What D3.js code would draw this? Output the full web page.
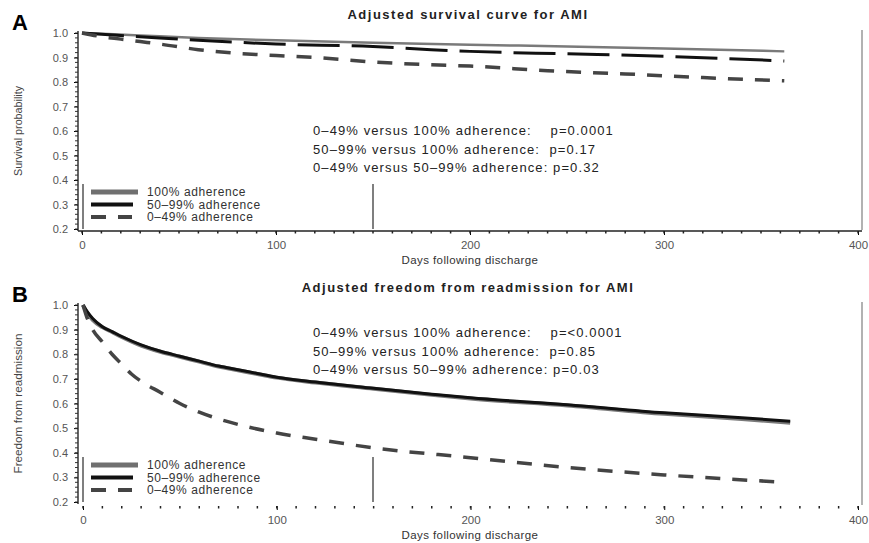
<!DOCTYPE html>
<html>
<head>
<meta charset="utf-8">
<script src="https://cdn.jsdelivr.net/npm/d3@7"></script>
<style>
  body { margin: 0; background: #fff; }
  text { font-family: "Liberation Sans", Arial, sans-serif; }
</style>
</head>
<body>
<svg id="chart" width="869" height="543"></svg>
<script>
// panel A - adjusted survival
var aDays100 = [0, 30, 60, 100, 150, 200, 250, 300, 362];
var aVals100 = [1.0, 0.99, 0.98, 0.97, 0.96, 0.952, 0.945, 0.937, 0.925];
var aDays50 = [0, 20, 40, 60, 80, 100, 150, 180, 200, 250, 300, 362];
var aVals50 = [1.0, 0.99, 0.98, 0.97, 0.962, 0.955, 0.945, 0.932, 0.925, 0.915, 0.905, 0.886];
var aDays0 = [0, 10, 20, 30, 40, 60, 80, 100, 120, 150, 180, 200, 240, 280, 320, 362];
var aVals0 = [1.0, 0.985, 0.975, 0.965, 0.955, 0.932, 0.917, 0.908, 0.9, 0.882, 0.87, 0.865, 0.846, 0.833, 0.818, 0.805];

// panel B - freedom from readmission
var bDays100 = [0, 2, 5, 10, 15, 20, 30, 40, 50, 60, 70, 80, 90, 100, 120, 150, 180, 200, 250, 300, 340, 365];
var bVals100 = [1.0, 0.97, 0.94, 0.91, 0.89, 0.87, 0.835, 0.81, 0.79, 0.77, 0.75, 0.735, 0.72, 0.705, 0.685, 0.66, 0.635, 0.62, 0.592, 0.558, 0.537, 0.522];
var bDays50 = [0, 2, 5, 10, 15, 20, 30, 40, 50, 60, 70, 80, 90, 100, 120, 150, 180, 200, 250, 300, 340, 365];
var bVals50 = [1.0, 0.975, 0.945, 0.912, 0.892, 0.872, 0.838, 0.812, 0.792, 0.772, 0.752, 0.737, 0.722, 0.707, 0.687, 0.662, 0.638, 0.623, 0.595, 0.562, 0.542, 0.528];
var bDays0 = [0, 2, 5, 10, 15, 20, 25, 30, 40, 50, 60, 80, 100, 120, 150, 200, 250, 300, 362];
var bVals0 = [1.0, 0.95, 0.9, 0.85, 0.8, 0.76, 0.72, 0.69, 0.645, 0.6, 0.565, 0.515, 0.48, 0.455, 0.42, 0.38, 0.34, 0.31, 0.28];

var yTicks = [0.2, 0.3, 0.4, 0.5, 0.6, 0.7, 0.8, 0.9, 1.0];
var xTicks = [0, 100, 200, 300, 400];
var legendLabels = ["100% adherence", "50\u201399% adherence", "0\u201349% adherence"];
var pTextA = ["0\u201349% versus 100% adherence:    p=0.0001",
              "50\u201399% versus 100% adherence:  p=0.17",
              "0\u201349% versus 50\u201399% adherence: p=0.32"];
var pTextB = ["0\u201349% versus 100% adherence:    p=<0.0001",
              "50\u201399% versus 100% adherence:  p=0.85",
              "0\u201349% versus 50\u201399% adherence: p=0.03"];

var svg = d3.select("#chart");

function zip(days, vals) {
  return days.map(function(d, i) { return [d, vals[i]]; });
}

function panel(o) {
  var g = svg.append("g");
  var x = d3.scaleLinear().domain([0, 400]).range([o.x0, 858]);
  var y = d3.scaleLinear().domain([0.2, 1.0]).range([o.yBot, o.yTop]);

  // letter + title
  g.append("text").attr("x", 12).attr("y", o.yTop - 3)
    .attr("font-size", "22px").attr("font-weight", "bold").text(o.letter);
  g.append("text").attr("x", 468).attr("y", o.titleY)
    .attr("text-anchor", "middle").attr("font-size", "13px").attr("font-weight", "bold")
    .attr("letter-spacing", "1.5px").attr("fill", "#222").text(o.title);

  // y axis
  var yAxis = d3.axisLeft(y).tickValues(yTicks).tickFormat(d3.format(".1f")).tickSize(4).tickPadding(6);
  var ya = g.append("g").attr("transform", "translate(78,0)").call(yAxis);
  ya.select(".domain").attr("d", "M0," + (o.yTop - 2) + "V" + (o.yBot + 2)).attr("stroke", "#333").attr("stroke-width", 1.5);
  ya.selectAll("text").attr("font-size", "11px").attr("fill", "#555");
  var yMinor = d3.range(0.2, 1.0001, 0.02);
  g.append("g").selectAll("line").data(yMinor).enter().append("line")
    .attr("x1", 75).attr("x2", 78)
    .attr("y1", function(d) { return y(d); }).attr("y2", function(d) { return y(d); })
    .attr("stroke", "#333").attr("stroke-width", 1);

  // x axis
  var xAxis = d3.axisBottom(x).tickValues(xTicks).tickSize(4).tickPadding(6);
  var xa = g.append("g").attr("transform", "translate(0," + o.xAxisY + ")").call(xAxis);
  if (o.solidX) {
    xa.select(".domain").attr("d", "M78,0H862").attr("stroke", "#222").attr("stroke-width", 1.5);
  } else {
    xa.select(".domain").remove();
  }
  xa.selectAll("text").attr("font-size", "11.5px").attr("fill", "#555");
  var xMinor = d3.range(0, 401, 10);
  g.append("g").selectAll("line").data(xMinor).enter().append("line")
    .attr("x1", function(d) { return x(d); }).attr("x2", function(d) { return x(d); })
    .attr("y1", o.xAxisY).attr("y2", o.xAxisY + 2.5)
    .attr("stroke", "#222").attr("stroke-width", 1.5);
  g.append("text").attr("x", 470).attr("y", o.xAxisY + 33)
    .attr("text-anchor", "middle").attr("font-size", "11.5px").attr("fill", "#333")
    .attr("letter-spacing", "0.4px")
    .text("Days following discharge");

  // y label
  g.append("text")
    .attr("transform", "translate(22," + ((o.yTop + o.yBot) / 2) + ") rotate(-90)")
    .attr("text-anchor", "middle").attr("font-size", "11px").attr("fill", "#444")
    .attr("textLength", o.yLabelLen).attr("lengthAdjust", "spacingAndGlyphs")
    .text(o.yLabel);

  // right border
  g.append("line").attr("x1", 862).attr("x2", 862)
    .attr("y1", o.yTop - 3).attr("y2", o.xAxisY - 1)
    .attr("stroke", "#999").attr("stroke-width", 1.5);

  // curves
  var line = d3.line().x(function(d) { return x(d[0]); }).y(function(d) { return y(d[1]); })
    .curve(d3.curveMonotoneX);
  g.append("path").datum(zip(o.d100, o.v100)).attr("d", line)
    .attr("fill", "none").attr("stroke", "#7a7a7a").attr("stroke-width", o.w100);
  g.append("path").datum(zip(o.d50, o.v50)).attr("d", line)
    .attr("fill", "none").attr("stroke", "#111").attr("stroke-width", 3)
    .attr("stroke-dasharray", o.dash50);
  g.append("path").datum(zip(o.d0, o.v0)).attr("d", line)
    .attr("fill", "none").attr("stroke", "#444").attr("stroke-width", 3.5)
    .attr("stroke-dasharray", "15,12");

  // p-value text
  g.selectAll(".ptxt").data(o.pText).enter().append("text")
    .attr("x", 313).attr("y", function(d, i) { return o.pY + i * 18.5; })
    .attr("font-size", "13px").attr("fill", "#222").attr("letter-spacing", "1.1px")
    .attr("xml:space", "preserve").style("white-space", "pre")
    .text(function(d) { return d; });

  // legend
  var lg = g.append("g");
  lg.append("line").attr("x1", 83).attr("x2", 83).attr("y1", o.legTop).attr("y2", o.legTop + 45)
    .attr("stroke", "#555").attr("stroke-width", 1.5);
  lg.append("line").attr("x1", 373).attr("x2", 373).attr("y1", o.legTop).attr("y2", o.legTop + 45)
    .attr("stroke", "#555").attr("stroke-width", 1.5);
  var sw = [
    { c: "#707070", w: 5, dash: null, x2: 138 },
    { c: "#111", w: 4, dash: null, x2: 133 },
    { c: "#444", w: 4, dash: "15,12", x2: 132 }
  ];
  lg.selectAll(".sw").data(sw).enter().append("line")
    .attr("x1", 91).attr("x2", function(d) { return d.x2; })
    .attr("y1", function(d, i) { return o.legTop + 8 + i * 12.5; })
    .attr("y2", function(d, i) { return o.legTop + 8 + i * 12.5; })
    .attr("stroke", function(d) { return d.c; }).attr("stroke-width", function(d) { return d.w; })
    .attr("stroke-dasharray", function(d) { return d.dash; });
  lg.selectAll(".lt").data(legendLabels).enter().append("text")
    .attr("x", 147).attr("y", function(d, i) { return o.legTop + 12 + i * 12.5; })
    .attr("font-size", "12px").attr("fill", "#333").attr("letter-spacing", "0.6px")
    .text(function(d) { return d; });
}

panel({
  letter: "A", title: "Adjusted survival curve for AMI", titleY: 19,
  x0: 82, yTop: 33, yBot: 229, xAxisY: 231, solidX: true,
  yLabel: "Survival probability", yLabelLen: 90,
  d100: aDays100, v100: aVals100, d50: aDays50, v50: aVals50, d0: aDays0, v0: aVals0,
  w100: 2.5, dash50: "42,12",
  pText: pTextA, pY: 135, legTop: 184
});

panel({
  letter: "B", title: "Adjusted freedom from readmission for AMI", titleY: 292,
  x0: 83, yTop: 305, yBot: 502, xAxisY: 506, solidX: false,
  yLabel: "Freedom from readmission", yLabelLen: 140,
  d100: bDays100, v100: bVals100, d50: bDays50, v50: bVals50, d0: bDays0, v0: bVals0,
  w100: 4, dash50: null,
  pText: pTextB, pY: 337, legTop: 457
});
</script>
</body>
</html>
